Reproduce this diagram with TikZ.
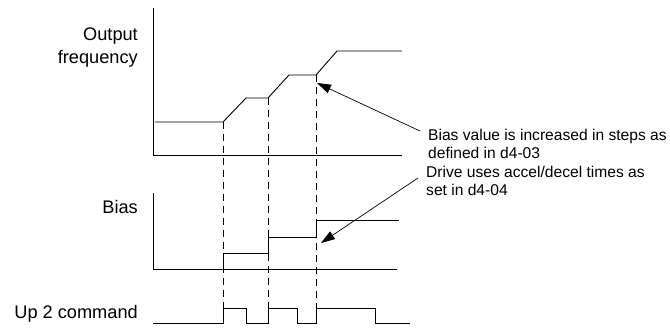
\documentclass[tikz,border=0pt]{standalone}
\usepackage{fontspec}
\setmainfont{Liberation Sans}
\usetikzlibrary{arrows.meta}
\begin{document}
\begin{tikzpicture}[x=1pt,y=-1pt,
  sig/.style={line width=0.9pt,line join=miter},
  guide/.style={line width=0.7pt,dash pattern=on 7pt off 5pt},
  callout/.style={line width=0.7pt,-{Triangle[length=14pt,width=9pt]}},
  lbl/.style={font=\fontsize{18.2}{22}\selectfont,inner sep=0pt,anchor=base east},
  note/.style={font=\fontsize{15.6}{18}\selectfont,inner sep=0pt,anchor=base west}]
\useasboundingbox (0,0) rectangle (670,327);
% labels
\node[lbl] (lout) at (138,40) {Output};
\node[lbl] (lfreq) at (138,63) {frequency};
\node[lbl] (lbias) at (138,213) {Bias};
\node[lbl] (lup) at (138,318) {Up 2 command};
% axes
\draw[sig] (153,8) -- (153,155) -- (402,155);
\draw[sig] (153,193) -- (153,269) -- (397,269);
% output frequency
\draw[sig] (155,122) -- (223,122) -- (246,98) -- (268,98) -- (289,75) -- (316,75) -- (337,51) -- (402,51);
% bias
\draw[sig] (223,269) -- (223,253) -- (268,253) -- (268,237) -- (316,237) -- (316,220) -- (399,220);
% pulses
\draw[sig] (153,323) -- (223,323) -- (223,308) -- (246,308) -- (246,323) -- (268,323) -- (268,308) -- (297,308) -- (297,323) -- (316,323) -- (316,308) -- (375,308) -- (375,323) -- (410,323);
% guides
\draw[guide] (223,122) -- (223,308);
\draw[guide] (268,98) -- (268,308);
\draw[guide] (316,75) -- (316,308);
% callouts
\coordinate (t1) at (317,83);
\coordinate (s1) at (420,131);
\coordinate (t2) at (321,243);
\coordinate (s2) at (418,178);
\draw[callout] (s1) -- (t1);
\draw[callout] (s2) -- (t2);
\node[note] (n1a) at (428,140) {Bias value is increased in steps as};
\node[note] (n1b) at (428,158) {defined in d4-03};
\node[note] (n2a) at (426,177) {Drive uses accel/decel times as};
\node[note] (n2b) at (426,195) {set in d4-04};
\end{tikzpicture}
\end{document}
